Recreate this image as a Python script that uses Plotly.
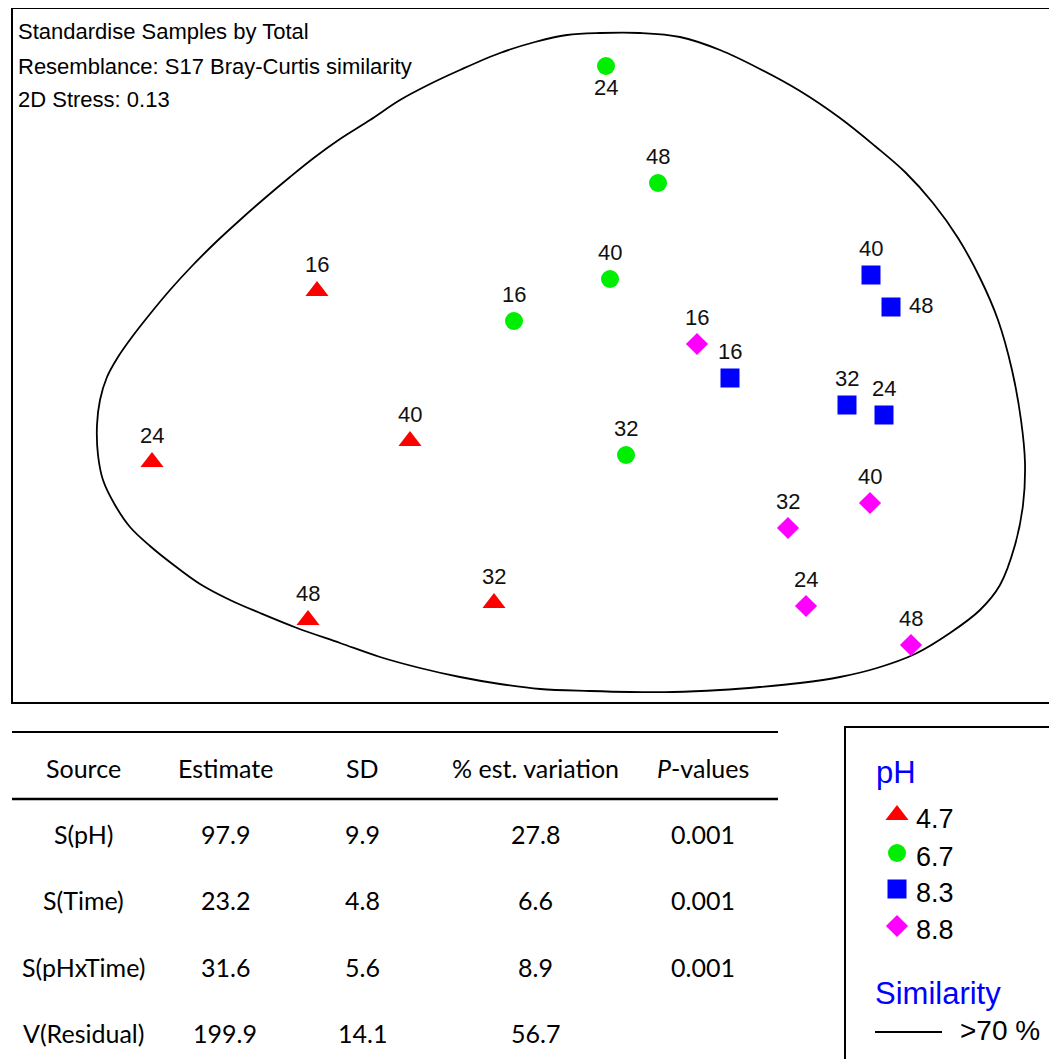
import plotly.graph_objects as go

# page is rendered with an 8px body margin; build the figure in page coordinates
OFF = 8
PAGE_W, PAGE_H = 1057, 1059
W, H = PAGE_W - OFF, PAGE_H - OFF

# ---- MDS ordination (coordinates, screen units) ----
groups = ["4.7", "6.7", "8.3", "8.8"]
times_47 = [16, 24, 40, 48, 32]
x_47 = [317, 152, 410, 308, 494]
y_47 = [291, 462, 441, 620, 603]

times_67 = [24, 48, 40, 16, 32]
x_67 = [606, 658, 610, 514, 626]
y_67 = [66, 183, 279, 321, 455]

times_83 = [40, 48, 16, 32, 24]
x_83 = [871, 891, 730, 847, 884]
y_83 = [275, 307, 378, 405, 415]

times_88 = [16, 40, 32, 24, 48]
x_88 = [697, 870, 788, 806, 911]
y_88 = [344, 503, 528, 606, 645]

# similarity >70% contour
hull_x = [600, 640, 680, 720, 760, 800, 840, 875, 905, 933, 958, 980, 998, 1012, 1021, 1025, 1023, 1015,
          1000, 980, 950, 915, 877, 840, 800, 760, 720, 673, 630, 590, 540, 500, 460, 420, 380, 340, 297,
          260, 230, 200, 175, 150, 130, 115, 103, 98, 97, 100, 107, 118, 132, 150, 170, 192, 215, 240,
          265, 290, 315, 340, 370, 400, 430, 460, 500, 535, 567, 600]
hull_y = [33, 33, 37, 50, 69, 91, 118, 146, 172, 203, 238, 278, 320, 370, 420, 463, 505, 545,
          585, 610, 633, 654, 668, 677, 683, 687, 690, 692, 692, 691, 689, 684, 677, 668, 657, 643, 628,
          613, 600, 584, 566, 546, 527, 505, 480, 455, 425, 400, 377, 357, 337, 314, 290, 266, 243, 220,
          198, 177, 157, 139, 120, 100, 84, 70, 53, 42, 35, 33]

# ---- PERMANOVA table ----
tbl_header = ["Source", "Estimate", "SD", "% est. variation", "<i>P</i>-values"]
tbl_source = ["S(pH)", "S(Time)", "S(pHxTime)", "V(Residual)"]
tbl_estimate = ["97.9", "23.2", "31.6", "199.9"]
tbl_sd = ["9.9", "4.8", "5.6", "14.1"]
tbl_var = ["27.8", "6.6", "8.9", "56.7"]
tbl_p = ["0.001", "0.001", "0.001", ""]

info_lines = ["Standardise Samples by Total",
              "Resemblance: S17 Bray-Curtis similarity",
              "2D Stress: 0.13"]

styles = {
    "4.7": dict(symbol="triangle-up", color="#ff0000", size=20),
    "6.7": dict(symbol="circle", color="#00ee00", size=18),
    "8.3": dict(symbol="square", color="#0000ff", size=19),
    "8.8": dict(symbol="diamond", color="#ff00ff", size=17),
}
data = {
    "4.7": (x_47, y_47, times_47),
    "6.7": (x_67, y_67, times_67),
    "8.3": (x_83, y_83, times_83),
    "8.8": (x_88, y_88, times_88),
}

def px(x):
    return (x - OFF) / W

def py(y):
    return 1 - (y - OFF) / H

fig = go.Figure()

fig.add_trace(go.Scatter(x=hull_x, y=hull_y, mode="lines",
                         line=dict(color="black", width=1.8, shape="spline", smoothing=1.0),
                         hoverinfo="skip", showlegend=False))

annotations = []
label_font = dict(family="Liberation Sans, Arial", size=22, color="#111111")
for g in groups:
    xs, ys, ts = data[g]
    st = styles[g]
    fig.add_trace(go.Scatter(x=xs, y=ys, mode="markers", name=g, showlegend=False,
                             marker=dict(symbol=st["symbol"], color=st["color"], size=st["size"],
                                         line=dict(width=0)), cliponaxis=False))
    for xv, yv, t in zip(xs, ys, ts):
        xshift, yshift, xanchor = 0, 27, "center"
        if g == "6.7" and t == 24:
            yshift = -21
        if g == "8.3" and t == 48:
            xshift, yshift, xanchor = 16, 2, "left"
        annotations.append(dict(x=xv, y=yv, xref="x", yref="y", text=str(t), showarrow=False,
                                xshift=xshift, yshift=yshift, xanchor=xanchor, yanchor="middle",
                                font=label_font))

# info text
for i, t in enumerate(info_lines):
    annotations.append(dict(x=px(16), y=py(32 + i * 34), xref="paper", yref="paper", text=t,
                            showarrow=False, xanchor="left", yanchor="middle",
                            font=dict(family="Liberation Sans, Arial", size=22, color="black")))

# table
col_x = [83, 225, 362, 535, 703]
tfont = dict(family="Lato, Carlito, Calibri", size=25, color="black")
for cx, h in zip(col_x, tbl_header):
    annotations.append(dict(x=px(cx), y=py(768), xref="paper", yref="paper", text=h,
                            showarrow=False, xanchor="center", yanchor="middle", font=tfont))
row_y = [834, 900, 967, 1033]
for r, ry in enumerate(row_y):
    vals = [tbl_source[r], tbl_estimate[r], tbl_sd[r], tbl_var[r], tbl_p[r]]
    for cx, v in zip(col_x, vals):
        if v:
            annotations.append(dict(x=px(cx), y=py(ry), xref="paper", yref="paper", text=v,
                                    showarrow=False, xanchor="center", yanchor="middle", font=tfont))

# legend texts
lfont = dict(family="Liberation Sans, Arial", size=27, color="black")
annotations.append(dict(x=px(874), y=py(772), xref="paper", yref="paper", text="pH", showarrow=False,
                        xanchor="left", yanchor="middle",
                        font=dict(family="Liberation Sans, Arial", size=31, color="#0000ff")))
leg_y = [819, 857, 893, 930]
for g, ly in zip(groups, leg_y):
    annotations.append(dict(x=px(914), y=py(ly), xref="paper", yref="paper", text=g, showarrow=False,
                            xanchor="left", yanchor="middle", font=lfont))
annotations.append(dict(x=px(873), y=py(993), xref="paper", yref="paper", text="Similarity",
                        showarrow=False, xanchor="left", yanchor="middle",
                        font=dict(family="Liberation Sans, Arial", size=31, color="#0000ff")))
annotations.append(dict(x=px(958), y=py(1030), xref="paper", yref="paper", text="&gt;70 %",
                        showarrow=False, xanchor="left", yanchor="middle",
                        font=dict(family="Liberation Sans, Arial", size=28, color="black")))

# legend markers on a full-page axis
for g, ly in zip(groups, leg_y):
    st = styles[g]
    fig.add_trace(go.Scatter(x=[897], y=[ly - 4], xaxis="x2", yaxis="y2", mode="markers",
                             showlegend=False, hoverinfo="skip", cliponaxis=False,
                             marker=dict(symbol=st["symbol"], color=st["color"], size=st["size"],
                                         line=dict(width=0))))

shapes = [
    dict(type="rect", xref="paper", yref="paper", x0=px(12), x1=px(1053), y0=py(703), y1=py(8),
         line=dict(color="black", width=2)),
    dict(type="line", xref="paper", yref="paper", x0=px(12), x1=px(778), y0=py(732), y1=py(732),
         line=dict(color="black", width=2)),
    dict(type="line", xref="paper", yref="paper", x0=px(12), x1=px(778), y0=py(799), y1=py(799),
         line=dict(color="black", width=2.5)),
    dict(type="rect", xref="paper", yref="paper", x0=px(845), x1=px(1050), y0=py(1075), y1=py(727),
         line=dict(color="black", width=2)),
    dict(type="line", xref="paper", yref="paper", x0=px(875), x1=px(942), y0=py(1032), y1=py(1032),
         line=dict(color="black", width=2)),
]

fig.update_layout(
    width=W, height=H, margin=dict(l=0, r=0, t=0, b=0),
    paper_bgcolor="white", plot_bgcolor="rgba(0,0,0,0)",
    xaxis=dict(domain=[px(12), px(1053)], range=[12, 1053], visible=False, fixedrange=True),
    yaxis=dict(domain=[py(703), py(8)], range=[703, 8], visible=False, fixedrange=True),
    xaxis2=dict(domain=[0, 1], range=[OFF, PAGE_W], visible=False, anchor="y2", fixedrange=True),
    yaxis2=dict(domain=[0, 1], range=[PAGE_H, OFF], visible=False, anchor="x2", fixedrange=True),
    annotations=annotations, shapes=shapes, showlegend=False,
)

fig.write_html("out.html")
